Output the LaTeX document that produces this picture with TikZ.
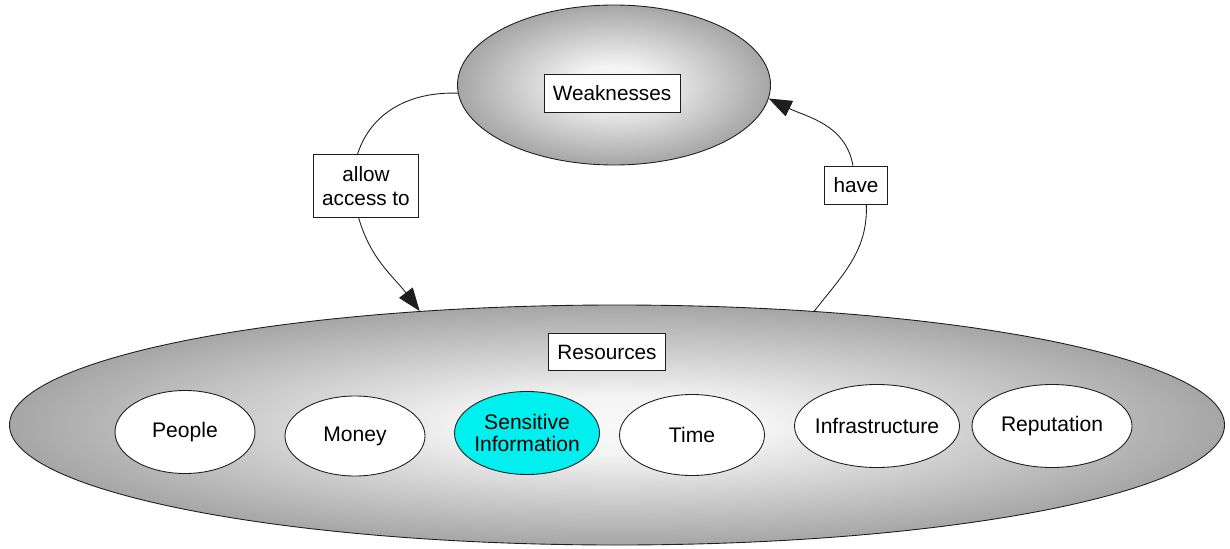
\documentclass[tikz,border=0pt]{standalone}
\usepackage{fontspec}
\setmainfont{Liberation Sans}
\usepackage{xcolor}
\usetikzlibrary{shapes.geometric,arrows.meta}
\definecolor{edge}{HTML}{1E1E1E}
\definecolor{rim}{HTML}{A6A6A6}
\definecolor{core}{HTML}{F8F8F8}
\definecolor{hot}{HTML}{00F0F0}
\pgfdeclareradialshading{glow}{\pgfpoint{0bp}{0bp}}{%
  color(0bp)=(core); color(6bp)=(core!95!rim); color(25bp)=(rim); color(50bp)=(rim)}
\tikzset{
  blob/.style={ellipse, draw=edge, line width=0.5pt, shading=glow},
  item/.style={ellipse, draw=edge, line width=0.5pt, fill=white, minimum height=1.66cm,
    align=center, font=\fontsize{12}{13}\selectfont, inner xsep=-3pt, inner ysep=1pt},
  tag/.style={rectangle, draw=edge, line width=0.5pt, fill=white, align=center,
    inner xsep=5pt, inner ysep=6.5pt, font=\fontsize{11.8}{14}\selectfont},
  link/.style={draw=edge, line width=0.5pt},
  tip/.style={-{Triangle[length=4.6mm, width=3.4mm]}},
}
\begin{document}
\begin{tikzpicture}
  \useasboundingbox (0,0) rectangle (24.6,10.96);
  % outer concepts
  \node[blob, minimum width=6.26cm, minimum height=3.2cm] (weak) at (12.28,9.26) {};
  \node[tag] (weaklab) at (12.24,9.1) {Weaknesses};
  \node[blob, minimum width=24.3cm, minimum height=4.8cm] (res) at (12.34,2.46) {};
  \node[tag] (reslab) at (12.14,3.92) {Resources};
  % resource kinds
  \node[item, minimum width=2.8cm] (people) at (3.7,2.32) {People};
  \node[item, minimum width=2.8cm, minimum height=1.6cm] (money) at (7.1,2.24) {Money};
  \node[item, minimum width=2.9cm, fill=hot] (info) at (10.54,2.3) {Sensitive\\Information};
  \node[item, minimum width=2.9cm, minimum height=1.62cm] (time) at (13.84,2.26) {Time};
  \node[item, minimum width=3.3cm] (infra) at (17.54,2.44) {Infrastructure};
  \node[item, minimum width=3.2cm] (repu) at (21.04,2.44) {Reputation};
  % relation labels
  \node[tag] (allow) at (7.32,7.24) {allow\\access to};
  \node[tag] (have) at (17.12,7.26) {have};
  % connectors
  \draw[link] (weak.183) to[out=178, in=72] (allow.105);
  \draw[link, tip] (allow.257) to[out=-74, in=127] (res.150);
  \draw[link] (res.30) to[out=52, in=-88] (have.-62);
  \draw[link, tip] (have.99) to[out=100, in=-26] (weak.-5);
\end{tikzpicture}
\end{document}
